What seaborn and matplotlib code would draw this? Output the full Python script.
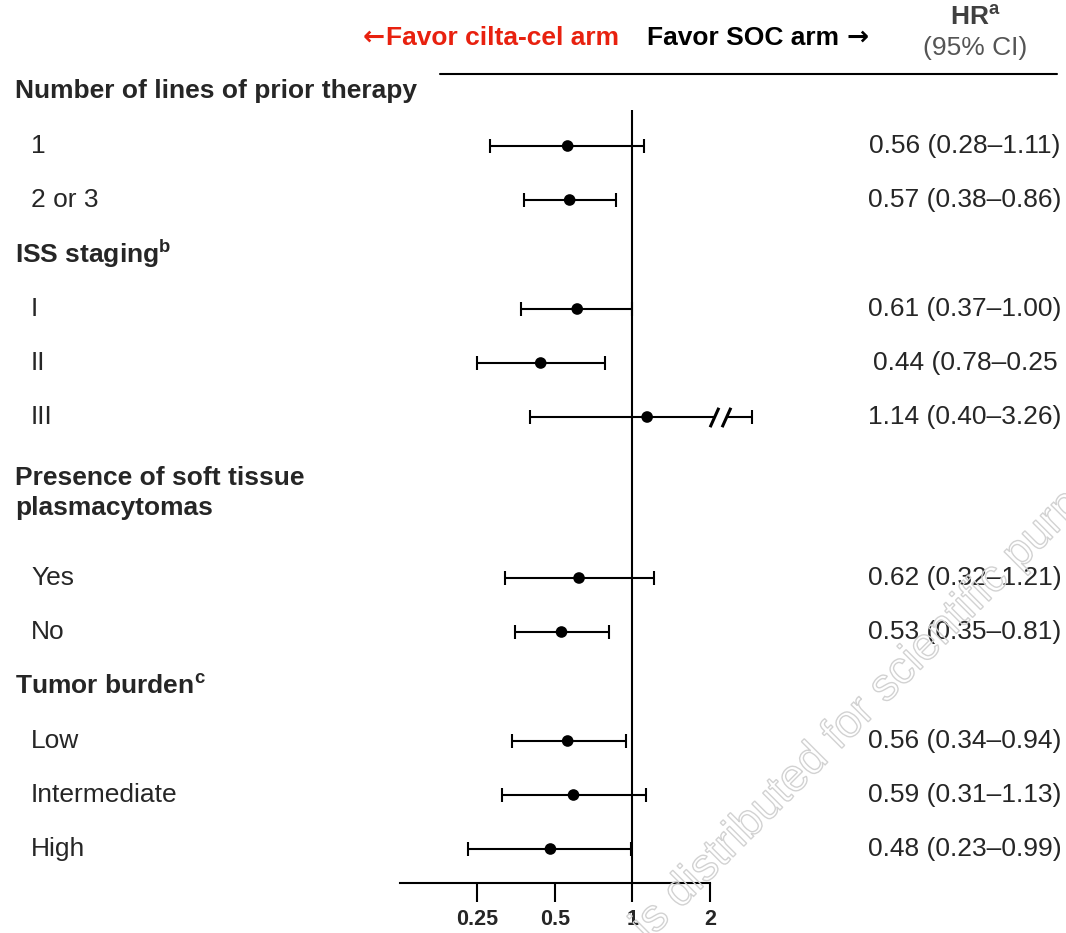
import matplotlib
matplotlib.use("Agg")
import matplotlib.pyplot as plt
import matplotlib.patheffects as pe
from matplotlib.lines import Line2D
from matplotlib.transforms import blended_transform_factory, offset_copy
import numpy as np
import pandas as pd
import seaborn as sns

# ---- data -------------------------------------------------------------
section_titles = [
    "Number of lines of prior therapy",
    r"ISS staging$^{\mathbf{b}}$",
    "Presence of soft tissue\nplasmacytomas",
    r"Tumor burden$^{\mathbf{c}}$",
]
section_sizes = [2, 3, 2, 3]
subgroups = ["1", "2 or 3", "I", "II", "III", "Yes", "No",
             "Low", "Intermediate", "High"]
hr = [0.56, 0.57, 0.61, 0.44, 1.14, 0.62, 0.53, 0.56, 0.59, 0.48]
ci_low = [0.28, 0.38, 0.37, 0.25, 0.40, 0.32, 0.35, 0.34, 0.31, 0.23]
ci_high = [1.11, 0.86, 1.00, 0.78, 3.26, 1.21, 0.81, 0.94, 1.13, 0.99]
hr_labels = ["0.56 (0.28–1.11)", "0.57 (0.38–0.86)", "0.61 (0.37–1.00)",
             "0.44 (0.78–0.25", "1.14 (0.40–3.26)", "0.62 (0.32–1.21)",
             "0.53 (0.35–0.81)", "0.56 (0.34–0.94)", "0.59 (0.31–1.13)",
             "0.48 (0.23–0.99)"]
x_ticks = [0.25, 0.5, 1, 2]
x_tick_labels = ["0.25", "0.5", "1", "2"]

# ---- style ------------------------------------------------------------
sns.set_theme(style="white")
plt.rcParams["font.family"] = ["Liberation Sans", "DejaVu Sans"]
plt.rcParams["mathtext.fontset"] = "custom"
plt.rcParams["mathtext.rm"] = "Liberation Sans"
plt.rcParams["mathtext.bf"] = "Liberation Sans:bold"

TEXT = "#262626"
FS = 19

# ---- layout (pixels from the top of the canvas) -----------------------
W, H = 1066, 933
ROW = 54
cursor = 91
header_y, row_y = [], []
for title, n in zip(section_titles, section_sizes):
    two_line = "\n" in title
    if two_line:
        cursor += 22
    header_y.append(cursor)
    first = cursor + 55 + (30 if two_line else 0)
    rows = first + ROW * np.arange(n)
    row_y.extend(rows.tolist())
    cursor = rows[-1] + ROW

df = pd.DataFrame({"subgroup": subgroups, "hr": hr, "lo": ci_low,
                   "hi": ci_high, "label": hr_labels, "y": row_y})

# axis break for intervals running past the scale
X_MAX = 2
BREAK_AT = 2.18
BREAK_END = 2.9
df["hi_drawn"] = np.minimum(df["hi"], BREAK_END)

fig = plt.figure(figsize=(W / 100, H / 100), dpi=100)
ax_top, ax_bottom = 110, 883
ax = fig.add_axes([400 / W, 1 - ax_bottom / H, 310 / W, (ax_bottom - ax_top) / H])
ax.set_facecolor("none")
ax.set_xscale("log", base=2)
ax.set_xlim(0.125, X_MAX)
ax.set_ylim(ax_bottom, ax_top)

# reference line at HR = 1
ax.axvline(1, color="black", lw=1.5, zorder=1)

# confidence intervals
xerr = np.vstack([df["hr"] - df["lo"], df["hi_drawn"] - df["hr"]])
ax.errorbar(df["hr"], df["y"], xerr=xerr, fmt="none", ecolor="black",
            elinewidth=1.5, capsize=4.7, capthick=1.5, clip_on=False, zorder=2)

# point estimates
sns.scatterplot(data=df, x="hr", y="y", ax=ax, color="black", s=70,
                edgecolor="none", zorder=3, legend=False, clip_on=False)

# break marks (//) on truncated intervals
slash = [(-0.45, -1.0), (0.45, 1.0)]
for _, r in df[df["hi"] > X_MAX].iterrows():
    ax.plot([BREAK_AT], [r["y"]], marker="s", markersize=8, color="white",
            markeredgecolor="none", clip_on=False, zorder=4)
    for dx in (-6, 6):
        ax.plot([BREAK_AT], [r["y"]], marker=slash, markersize=14,
                markeredgewidth=2.2, markeredgecolor="black",
                markerfacecolor="none", linestyle="none", clip_on=False,
                zorder=5,
                transform=offset_copy(ax.transData, fig=fig, x=dx, y=0,
                                      units="dots"))

# x axis
for s in ["top", "right", "left"]:
    ax.spines[s].set_visible(False)
ax.spines["bottom"].set_linewidth(1.5)
ax.spines["bottom"].set_color("black")
ax.set_xticks(x_ticks)
ax.set_xticklabels(x_tick_labels, fontweight="bold", fontsize=15.5)
ax.xaxis.set_minor_locator(matplotlib.ticker.NullLocator())
ax.tick_params(axis="x", direction="out", length=14, width=1.5,
               color="black", pad=5, bottom=True)
ax.set_yticks([])
ax.set_xlabel("")
ax.set_ylabel("")

# left-hand labels and right-hand HR column
tr = blended_transform_factory(fig.transFigure, ax.transData)
for title, y in zip(section_titles, header_y):
    ax.text(15 / W, y, title, transform=tr, fontsize=FS, fontweight="bold",
            color=TEXT, ha="left", va="center", linespacing=1.3)
for _, r in df.iterrows():
    ax.text(31 / W, r["y"], r["subgroup"], transform=tr, fontsize=FS,
            color=TEXT, ha="left", va="center")
    ax.text(965 / W, r["y"], r["label"], transform=tr, fontsize=FS,
            color=TEXT, ha="center", va="center")

# column header
RED = "#e8210f"
fig.text(385 / W, 1 - 38 / H, "\u2190", fontsize=FS, fontweight="bold",
         family="DejaVu Sans", color=RED, ha="right", va="center")
fig.text(619 / W, 1 - 38 / H, "Favor cilta-cel arm", fontsize=FS,
         fontweight="bold", color=RED, ha="right", va="center")
fig.text(647 / W, 1 - 38 / H, "Favor SOC arm", fontsize=FS,
         fontweight="bold", color="black", ha="left", va="center")
fig.text(847 / W, 1 - 38 / H, "\u2192", fontsize=FS, fontweight="bold",
         family="DejaVu Sans", color="black", ha="left", va="center")
fig.text(975 / W, 1 - 17 / H, r"HR$^{\mathbf{a}}$", fontsize=FS,
         fontweight="bold", color="#404040", ha="center", va="center")
fig.text(975 / W, 1 - 48 / H, "(95% CI)", fontsize=FS,
         color="#555555", ha="center", va="center")
fig.add_artist(Line2D([440 / W, 1057 / W], [1 - 74 / H, 1 - 74 / H],
                      transform=fig.transFigure, color="black", lw=1.5))

# watermark
fig.text(648 / W, 1 - 942 / H, "is distributed for scientific purposes only",
         fontsize=33, rotation=45, rotation_mode="anchor", ha="left",
         va="baseline", color="none", zorder=0.5,
         path_effects=[pe.PathPatchEffect(edgecolor="#d2d2d2",
                                          facecolor="none", linewidth=1.0)])

fig.savefig("out.png", dpi=100, facecolor="white")
